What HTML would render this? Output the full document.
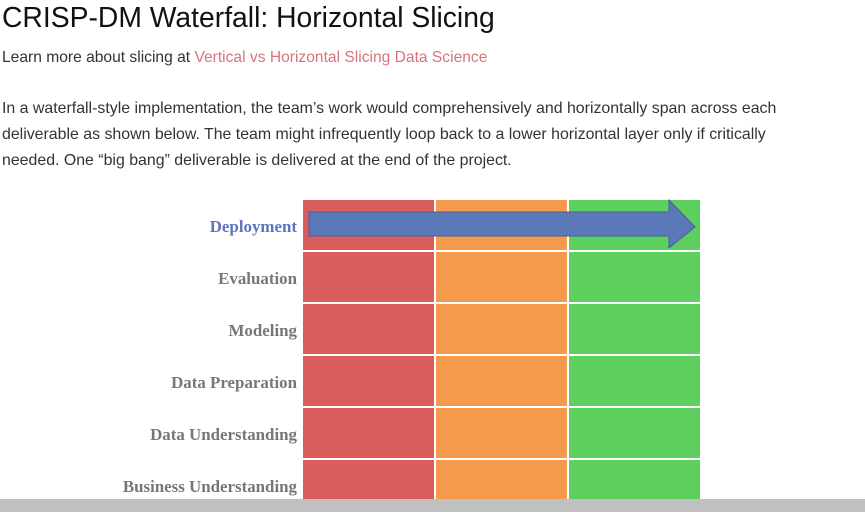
<!DOCTYPE html>
<html><head><meta charset="utf-8"><style>
body{margin:0;width:865px;height:512px;overflow:hidden;background:#fff;font-family:"Liberation Sans",sans-serif;color:#333;position:relative}
h1{position:absolute;left:2px;top:0;margin:0;font-size:28.3px;font-weight:normal;color:#111;line-height:34px;white-space:nowrap}
.p{position:absolute;left:2px;font-size:15.9px;line-height:26px;margin:0;width:860px;white-space:nowrap}
a{color:#d9737a;text-decoration:none}
.bar{position:absolute;left:0;top:499px;width:865px;height:13px;background:#c0c0c0}
</style></head><body>
<h1>CRISP-DM Waterfall: Horizontal Slicing</h1>
<p class="p" style="top:45px;font-size:15.6px">Learn more about slicing at <a>Vertical vs Horizontal Slicing Data Science</a></p>
<p class="p" style="top:96px">In a waterfall-style implementation, the team’s work would comprehensively and horizontally span across each<br>deliverable as shown below. The team might infrequently loop back to a lower horizontal layer only if critically<br>needed. One “big bang” deliverable is delivered at the end of the project.</p>
<svg id="chart" style="position:absolute;left:0;top:0" width="865" height="512"></svg>
<div class="bar"></div>
<script>
const phases=["Deployment","Evaluation","Modeling","Data Preparation","Data Understanding","Business Understanding"];
const deliverableColors=["#d95d5d","#f59a4c","#5ccf5f"];
const arrowSpan=[0,1];
const svg=document.getElementById('chart');
const NS='http://www.w3.org/2000/svg';
const x0=303,colW=133,y0=200,rowH=52,nCols=deliverableColors.length;
const xs=f=>x0+f*colW*nCols;
function mk(t,a){const e=document.createElementNS(NS,t);for(const k in a)e.setAttribute(k,a[k]);svg.appendChild(e);return e;}
phases.forEach((p,r)=>{
  deliverableColors.forEach((c,ci)=>{
    const h=Math.min(rowH-2,499-(y0+r*rowH));
    const el=mk('rect',{x:x0+ci*colW,y:y0+r*rowH,width:colW-2,height:h,fill:c});
    
    
  });
  const t=mk('text',{x:297,y:y0+r*rowH+27+5,'text-anchor':'end','font-family':'Liberation Serif,serif','font-weight':'bold','font-size':16.9,fill:r==0?'#5b76be':'#777'});
  t.textContent=p;
  
  
});
const ax1=xs(arrowSpan[0])+6,ax2=xs(arrowSpan[1])-7,cy=y0+27;
const arr=mk('path',{d:`M${ax1},${cy-15}L${ax2-26},${cy-15}L${ax2-26},${cy-27}L${ax2},${cy}L${ax2-26},${cy+21}L${ax2-26},${cy+9}L${ax1},${cy+9}Z`,fill:'#5b78b8',stroke:'#44609a','stroke-width':1});


</script>
</body></html>
